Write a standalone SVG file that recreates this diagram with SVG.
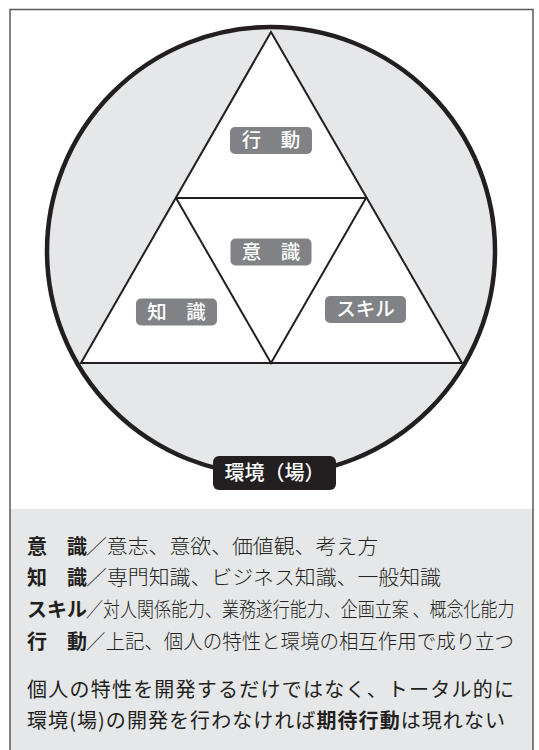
<svg xmlns="http://www.w3.org/2000/svg" width="539" height="750" viewBox="0 0 539 750">
<style>
.lbl{fill:#808285}
.lt{fill:#fff;font-family:"Noto Sans CJK JP","Noto Sans",sans-serif;font-size:19.5px;font-weight:500;text-anchor:middle}
.tx{fill:#231f20;font-family:"Noto Sans CJK JP",sans-serif;font-size:20px}
.b{font-weight:700}
.m{font-weight:300}
</style>
<rect x="0" y="0" width="539" height="750" fill="#fff"/>
<rect id="panel" x="10" y="509" width="523" height="245" fill="#e6e7e8"/>
<rect id="frame" x="10" y="9.5" width="523" height="745" fill="none" stroke="#58595b" stroke-width="1.5"/>
<g id="environment">
<circle cx="271" cy="251" r="224" fill="#e6e7e8" stroke="#231f20" stroke-width="4.5"/>
</g>
<g id="connectors" fill="none" stroke="#231f20" stroke-width="2" stroke-linejoin="miter">
<polygon points="271,32 462,363 81,363" fill="#fff"/>
<polyline points="176,198 366,198 271,363 176,198"/>
</g>
<g id="node-kodo">
<rect class="lbl" x="230" y="127" width="82" height="27" rx="5"/>
<text class="lt" x="271" y="147">行　動</text>
</g>
<g id="node-ishiki">
<rect class="lbl" x="230.5" y="238.5" width="81" height="27" rx="5"/>
<text class="lt" x="271" y="258.5">意　識</text>
</g>
<g id="node-chishiki">
<rect class="lbl" x="136" y="298.5" width="81" height="27" rx="5"/>
<text class="lt" x="176.5" y="318.5">知　識</text>
</g>
<g id="node-skill">
<rect class="lbl" x="325" y="296" width="81" height="27" rx="5"/>
<text class="lt" x="365.5" y="316">スキル</text>
</g>
<g id="node-kankyo">
<rect x="213" y="456" width="123" height="34" rx="6" fill="#231f20"/>
<text class="lt" x="274.5" y="480" style="font-size:20px">環境（場）</text>
</g>
<g id="legend">
<text class="tx b" x="27" y="553.5">意　識</text>
<text class="tx m" x="86" y="553.5" textLength="292" lengthAdjust="spacingAndGlyphs">／意志、意欲、価値観、考え方</text>
<text class="tx b" x="27" y="585">知　識</text>
<text class="tx m" x="86" y="585" textLength="355" lengthAdjust="spacingAndGlyphs">／専門知識、ビジネス知識、一般知識</text>
<text class="tx b" x="27" y="616.5">スキル</text>
<text class="tx m" transform="translate(86,616.5) scale(0.85,1)" x="0" y="0">／対人関係能力、業務遂行能力、企画立案 、概念化能力</text>
<text class="tx b" x="27" y="649">行　動</text>
<text class="tx m" x="86" y="649" textLength="428" lengthAdjust="spacingAndGlyphs">／上記、個人の特性と環境の相互作用で成り立つ</text>
<text class="tx" x="27" y="697" textLength="487" lengthAdjust="spacing">個人の特性を開発するだけではなく、トータル的に</text>
<text class="tx" x="27" y="728" textLength="478" lengthAdjust="spacing">環境(場)の開発を行わなければ<tspan class="b">期待行動</tspan>は現れない</text>
</g>
</svg>
